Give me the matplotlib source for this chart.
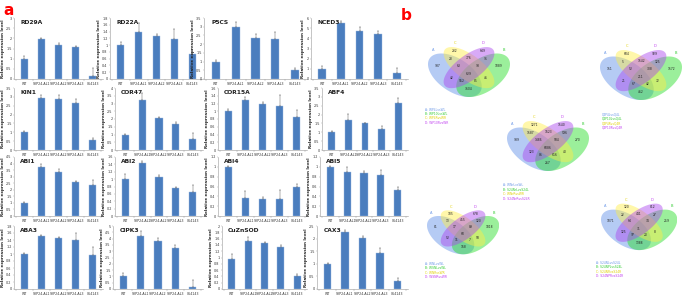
import numpy as np
import matplotlib.pyplot as plt

W, H = 685, 300

groups = ['WT', 'SYP24-AL1', 'SYP24-AL2', 'SYP24-AL3', '064143']

# expression values (relative to WT) and upper error bars
rd29a = [1.0, 1.97, 1.68, 1.58, 0.15]
rd29a_err = [0.13, 0.07, 0.07, 0.05, 0.38]
rd22a = [1.0, 1.39, 1.28, 1.19, 0.75]
rd22a_err = [0.09, 0.27, 0.04, 0.28, 0.14]
p5cs = [1.0, 2.99, 2.37, 2.27, 0.53]
p5cs_err = [0.1, 0.27, 0.19, 0.4, 0.1]
nced3 = [1.0, 5.5, 4.75, 4.43, 0.6]
nced3_err = [0.27, 0.23, 0.33, 0.27, 0.5]
kin1 = [1.0, 2.95, 2.9, 2.65, 0.55]
kin1_err = [0.05, 0.15, 0.2, 0.25, 0.12]
cor47 = [1.0, 3.2, 2.05, 1.7, 0.72]
cor47_err = [0.05, 0.45, 0.05, 0.08, 0.4]
cor15a = [1.0, 1.28, 1.19, 1.14, 0.84]
cor15a_err = [0.05, 0.08, 0.04, 0.27, 0.2]
abf4 = [1.0, 1.72, 1.5, 1.17, 2.65]
abf4_err = [0.05, 0.33, 0.05, 0.2, 0.3]
abi1 = [1.0, 3.73, 3.35, 2.6, 2.4]
abi1_err = [0.05, 0.23, 0.25, 0.1, 0.35]
abi2 = [1.0, 1.43, 1.07, 0.75, 0.65]
abi2_err = [0.14, 0.05, 0.05, 0.03, 0.2]
abi4 = [1.0, 0.37, 0.35, 0.34, 0.6]
abi4_err = [0.02, 0.13, 0.03, 0.19, 0.05]
abi5 = [1.0, 0.9, 0.87, 0.83, 0.53]
abi5_err = [0.02, 0.1, 0.04, 0.1, 0.05]
aba3 = [1.0, 1.52, 1.46, 1.39, 0.98]
aba3_err = [0.03, 0.02, 0.02, 0.2, 0.22]
cipk3 = [1.0, 4.2, 3.83, 3.23, 0.13]
cipk3_err = [0.25, 0.4, 0.25, 0.3, 0.6]
cuznsod = [0.96, 1.53, 1.45, 1.34, 0.42]
cuznsod_err = [0.16, 0.13, 0.03, 0.05, 0.05]
cax3 = [1.0, 2.25, 2.03, 1.42, 0.33]
cax3_err = [0.03, 0.1, 0.06, 0.2, 0.1]

genes = ['RD29A', 'RD22A', 'P5CS', 'NCED3',
         'KIN1', 'COR47', 'COR15A', 'ABF4',
         'ABI1', 'ABI2', 'ABI4', 'ABI5',
         'ABA3', 'CIPK3', 'CuZnSOD', 'CAX3']
values = [rd29a, rd22a, p5cs, nced3, kin1, cor47, cor15a, abf4,
          abi1, abi2, abi4, abi5, aba3, cipk3, cuznsod, cax3]
errors = [rd29a_err, rd22a_err, p5cs_err, nced3_err, kin1_err, cor47_err,
          cor15a_err, abf4_err, abi1_err, abi2_err, abi4_err, abi5_err,
          aba3_err, cipk3_err, cuznsod_err, cax3_err]
y_top = [3, 1.8, 3.5, 6, 3.5, 4, 1.6, 3.5, 4.5, 1.6, 1.2, 1.2, 1.8, 5, 2, 2.5]
y_step = [0.5, 0.2, 0.5, 1, 0.5, 0.5, 0.2, 0.5, 0.5, 0.2, 0.2, 0.2, 0.2, 0.5, 0.2, 0.5]

# Venn counts, region order below
regions = ['A', 'B', 'C', 'D', 'AB', 'AC', 'AD', 'BC', 'BD', 'CD',
           'ABC', 'ABD', 'ACD', 'BCD', 'ABCD']
venn1 = [987, 1089, 232, 649, 3604, 28, 42, 46, 91, 776, 85, 552, 63, 98, 629]
venn2 = [151, 1572, 604, 929, 462, 5, 21, 72, 125, 1542, 42, 67, 52, 308, 211]
venn3 = [989, 270, 1271, 1540, 267, 1587, 123, 40, 596, 1623, 616, 86, 1486, 584, 6086]
venn4 = [81, 1818, 105, 678, 168, 13, 52, 58, 120, 455, 7, 11, 17, 89, 60]
venn5 = [1071, 259, 120, 812, 1388, 22, 125, 8, 27, 441, 20, 97, 64, 34, 31]
legend1 = ['A: WP4LvsWL', 'B: WP10LvsWL', 'C: WP4RvsWR', 'D: WP10RvsWR']
legend2 = ['Q4P4LvsQ4L', 'Q4P10LvsQ4L', 'Q4P4RvsQ4R', 'Q4P10RvsQ4R']
legend3 = ['A: WNrLvsWL', 'B: S24NrLvsS24L', 'C: WNrRvsWR', 'D: S24NrRvsS24R']
legend4 = ['A: WNLvsWL', 'B: WSNLvsWL', 'C: WNRvsWR', 'D: WSNRvsWR']
legend5 = ['A: S24NLvsS24L', 'B: S24NPLvsS24L', 'C: S24NRvsS24R', 'D: S24NPRvsS24R']

fig = plt.figure(figsize=(6.85, 3.0), dpi=100)


def px_axes(x0, y0, x1, y1):
    return fig.add_axes([x0 / W, 1 - y1 / H, (x1 - x0) / W, (y1 - y0) / H])


# ---- panel a: bar charts
row_top = [18, 88, 157, 226]
row_bot = [79, 150, 216, 289]
lefts = [[14, 110, 204, 311], [14, 115, 218, 322],
         [14, 115, 218, 320], [14, 113, 222, 317]]
rights = [103, 203, 307, 408]
bar_col = '#4a7dbe'
grey = '#9a9a9a'

for i, gene in enumerate(genes):
    r, c = divmod(i, 4)
    ax = px_axes(lefts[r][c], row_top[r], rights[c], row_bot[r])
    x = np.arange(len(groups))
    ax.bar(x, values[i], width=0.42, color=bar_col, edgecolor='#9dbbe0',
           linewidth=0.3, zorder=2)
    ax.errorbar(x, values[i], yerr=[np.zeros(len(x)), errors[i]], fmt='none',
                ecolor='#606060', elinewidth=0.35, capsize=0.7, capthick=0.35,
                zorder=3)
    ax.set_xlim(-0.6, 4.6)
    ax.set_ylim(0, y_top[i])
    ticks = np.arange(0, y_top[i] + 1e-9, y_step[i])
    ax.set_yticks(ticks)
    ax.set_yticklabels(['{:g}'.format(round(t, 2)) for t in ticks])
    ax.set_xticks(x)
    ax.set_xticklabels(groups)
    ax.set_xticks(np.arange(-0.5, 5, 1), minor=True)
    ax.tick_params(axis='x', which='major', length=0, labelsize=2.3, pad=2.2,
                   labelcolor='#333333')
    ax.tick_params(axis='x', which='minor', length=1.2, width=0.3, color=grey)
    ax.tick_params(axis='y', length=1, width=0.3, color=grey, labelsize=2.4,
                   pad=0.8, labelcolor='#333333')
    for s in ['top', 'right']:
        ax.spines[s].set_visible(False)
    for s in ['left', 'bottom']:
        ax.spines[s].set_color(grey)
        ax.spines[s].set_linewidth(0.4)
    ax.set_ylabel('Relative expression level', fontsize=3.0, fontweight='bold',
                  labelpad=1.0, color='#222222')
    ax.text(0.07, 0.97, gene, transform=ax.transAxes, fontsize=4.3,
            fontweight='bold', va='top', ha='left', color='#222222')

fig.text(3 / W, 1 - 3 / H, 'a', color='red', fontsize=11, fontweight='bold',
         va='top', ha='left')
fig.text(401 / W, 1 - 8 / H, 'b', color='red', fontsize=11, fontweight='bold',
         va='top', ha='left')

# ---- panel b: four-set Venn diagrams
label_pos = {'A': (10, 25), 'B': (71, 25), 'C': (27, 10), 'D': (55, 10),
             'AB': (41, 48), 'AC': (23, 18), 'AD': (24, 37), 'BC': (58, 37),
             'BD': (58, 18), 'CD': (41, 17), 'ABC': (48, 40), 'ABD': (34, 40),
             'ACD': (31, 25), 'BCD': (50, 25), 'ABCD': (41, 33)}
set_pos = {'A': (5, 9), 'C': (27, 2), 'D': (55, 2), 'B': (76, 9)}
ellipses = {'A': (0.35, 0.47, 0.35, 0.20, 135),
            'B': (0.65, 0.47, 0.35, 0.20, 45),
            'C': (0.50, 0.57, 0.35, 0.15, 135),
            'D': (0.50, 0.57, 0.35, 0.15, 45)}
fill = {'A': '#5b8de8', 'B': '#22dd22', 'C': '#ffee44', 'D': '#aa44ee'}
text_col = {'A': '#6f9ae8', 'B': '#33cc33', 'C': '#e0d000', 'D': '#c040f0'}


def draw_venn(counts, legend, x0, y0, scale, lx, ly, lgap):
    ax = px_axes(x0, y0, x0 + 82 * scale, y0 + 58 * scale)
    ax.set_xlim(0, 82)
    ax.set_ylim(58, 0)
    ax.axis('off')
    t = np.linspace(0, 2 * np.pi, 200)
    for k in ['A', 'B', 'C', 'D']:
        cx, cy, a, b, ang = ellipses[k]
        r = np.deg2rad(ang)
        ex = cx + a * np.cos(t) * np.cos(r) - b * np.sin(t) * np.sin(r)
        ey = cy + a * np.cos(t) * np.sin(r) + b * np.sin(t) * np.cos(r)
        px = (ex - 0.065) / 0.87 * 82
        py = 58 - ((ey - 0.185) / 0.655 * 50 + 2)
        ax.fill(px, py, color=fill[k], alpha=0.45, lw=0)
    for k, v in zip(regions, counts):
        ax.text(*label_pos[k], str(v), fontsize=2.2, ha='center', va='center',
                color='#222222')
    for k, (sx, sy) in set_pos.items():
        ax.text(sx, sy, k, fontsize=2.6, ha='center', va='center',
                color=text_col[k])
    for j, (k, line) in enumerate(zip(['A', 'B', 'C', 'D'], legend)):
        fig.text(lx / W, 1 - (ly + j * lgap) / H, line, fontsize=2.2,
                 color=text_col[k], va='center', ha='left')


draw_venn(venn1, legend1, 428, 41, 1.0, 425, 110, 4.2)
draw_venn(venn2, legend2, 600, 44, 1.0, 602, 114, 4.6)
draw_venn(venn3, legend3, 507, 115, 1.0, 503, 185, 4.6)
draw_venn(venn4, legend4, 427, 205, 0.88, 425, 264, 4.4)
draw_venn(venn5, legend5, 601, 198, 0.93, 596, 263, 4.4)

fig.savefig('out.png', dpi=100)
